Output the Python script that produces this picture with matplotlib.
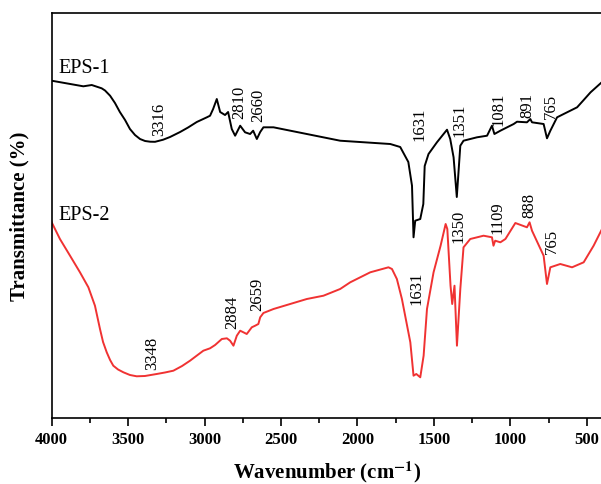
import matplotlib
matplotlib.use("Agg")
import matplotlib.pyplot as plt
from matplotlib.ticker import MultipleLocator

plt.rcParams['font.family'] = ['Liberation Serif', 'DejaVu Serif']
plt.rcParams['mathtext.fontset'] = 'stix'

# EPS-1 spectrum (wavenumber cm-1, transmittance a.u.)
eps1_wn = [4000, 3793, 3738, 3673, 3651, 3618, 3586, 3554, 3520, 3488, 3455, 3422,
           3389, 3356, 3324, 3271, 3226, 3160, 3108, 3051,
           2985, 2964, 2944, 2920, 2898, 2866, 2846, 2822, 2800, 2767, 2735, 2702,
           2682, 2658, 2636, 2615, 2549, 2331, 2113, 1785, 1720, 1667, 1643, 1633,
           1622, 1589, 1569, 1560, 1535, 1480, 1414, 1393, 1371, 1350, 1327, 1306,
           1218, 1152, 1120, 1104, 1065, 978, 956, 891, 869, 858, 782, 760, 738,
           694, 651, 563, 520, 475, 400]
eps1_t = [337.3, 331.7, 333.0, 329.7, 327.5, 322.3, 315.0, 306.0, 298.0, 289.0, 283.0, 279.0,
          277.0, 276.3, 276.2, 278.3, 281.0, 286.0, 290.5, 296.0,
          300.7, 302.3, 309.0, 319.0, 306.0, 303.0, 306.0, 289.0, 282.3, 292.3, 285.7, 284.0,
          287.3, 279.0, 286.0, 290.7, 290.7, 284.0, 277.3, 274.0, 271.0, 256.0, 232.3, 180.7,
          197.3, 199.0, 214.0, 252.0, 264.0, 275.7, 288.3, 279.0, 260.7, 221.0, 272.3, 277.3,
          280.7, 282.3, 292.3, 284.0, 287.3, 294.0, 296.3, 295.7, 299.0, 295.7, 294.0, 279.7, 287.3,
          300.7, 304.0, 310.7, 318.0, 325.7, 336.0]

# EPS-2 spectrum
eps2_wn = [4000, 3946, 3880, 3815, 3760, 3717, 3684, 3664, 3640, 3618, 3597, 3566,
           3531, 3488, 3444, 3390, 3313, 3259,
           3204, 3147, 3095, 3008, 2964, 2931, 2887, 2854, 2833, 2811, 2789, 2767, 2746,
           2724, 2691, 2669, 2648, 2636, 2615, 2549, 2440, 2331, 2222, 2113, 2047,
           1916, 1797, 1774, 1742, 1709, 1654, 1633, 1615, 1589, 1567, 1545, 1502,
           1456, 1423, 1412, 1391, 1380, 1365, 1349, 1327, 1306, 1262, 1175, 1120,
           1110, 1099, 1065, 1032, 967, 891, 874, 858, 782, 760, 738, 673, 596,
           520, 455, 400]
eps2_t = [195.7, 179.0, 162.3, 145.7, 130.7, 112.3, 89.0, 76.0, 65.7, 58.0, 52.3, 48.5,
          45.7, 43.0, 41.7, 42.0, 44.0, 45.5,
          47.3, 52.0, 57.3, 67.3, 69.7, 73.0, 79.0, 79.7, 77.3, 72.3, 82.3, 87.3, 85.7,
          84.0, 90.7, 92.3, 94.0, 100.7, 105.0, 109.0, 114.0, 119.0, 122.3, 129.0, 135.7,
          145.7, 150.7, 149.0, 139.0, 119.0, 75.7, 42.3, 44.0, 40.7, 62.3, 109.0, 145.7,
          172.3, 194.0, 189.0, 132.3, 114.0, 132.3, 72.3, 129.0, 170.7, 179.0, 182.3, 180.7,
          172.3, 177.3, 175.7, 179.0, 195.0, 190.7, 195.7, 187.3, 162.3, 134.0, 150.7, 154.0, 150.7,
          155.7, 172.3, 189.0]

eps1_peaks = ['3316', '2810', '2660', '1631', '1351', '1081', '891', '765']
eps2_peaks = ['3348', '2884', '2659', '1631', '1350', '1109', '888', '765']

# label anchor points (wavenumber, transmittance)
eps1_label_pos = [(3298, 299.5), (2774, 316.5), (2648, 314), (1594, 295),
                  (1332, 299), (1077, 310), (887, 314), (733, 313)]
eps2_label_pos = [(3345, 66), (2818, 106.5), (2654, 125), (1615, 131),
                  (1338, 193), (1087, 201), (874, 213.3), (727, 178)]

fig = plt.figure(figsize=(6.01, 4.85), dpi=100)
ax = fig.add_axes([0.086, 0.1361, 0.9157, 0.835])

ax.plot(eps1_wn, eps1_t, color='black', lw=1.4)
ax.plot(eps2_wn, eps2_t, color='#F03232', lw=1.4)

for txt, (x, y) in zip(eps1_peaks, eps1_label_pos):
    ax.text(x, y, txt, rotation=90, ha='center', va='center', fontsize=12)
for txt, (x, y) in zip(eps2_peaks, eps2_label_pos):
    ax.text(x, y, txt, rotation=90, ha='center', va='center', fontsize=12)

ax.text(3959, 351, 'EPS-1', ha='left', va='center', fontsize=14.5)
ax.text(3959, 204, 'EPS-2', ha='left', va='center', fontsize=14.5)

ax.set_xlim(4000, 400)
ax.set_ylim(0, 405)
ax.xaxis.set_major_locator(MultipleLocator(500))
ax.xaxis.set_minor_locator(MultipleLocator(250))
ax.tick_params(axis='x', which='major', direction='out', length=6, width=1.2, labelsize=12)
ax.tick_params(axis='x', which='minor', direction='out', length=3.5, width=1.2)
ax.set_yticks([])
for lab in ax.get_xticklabels():
    lab.set_fontweight('bold')
for sp in ax.spines.values():
    sp.set_linewidth(1.2)

ax.set_xlabel(r'Wavenumber (cm$^{\mathbf{-1}}$)', fontsize=15, fontweight='bold', labelpad=8)
ax.set_ylabel('Transmittance (%)', fontsize=15, fontweight='bold', labelpad=16)

fig.savefig('out.png', dpi=100)
